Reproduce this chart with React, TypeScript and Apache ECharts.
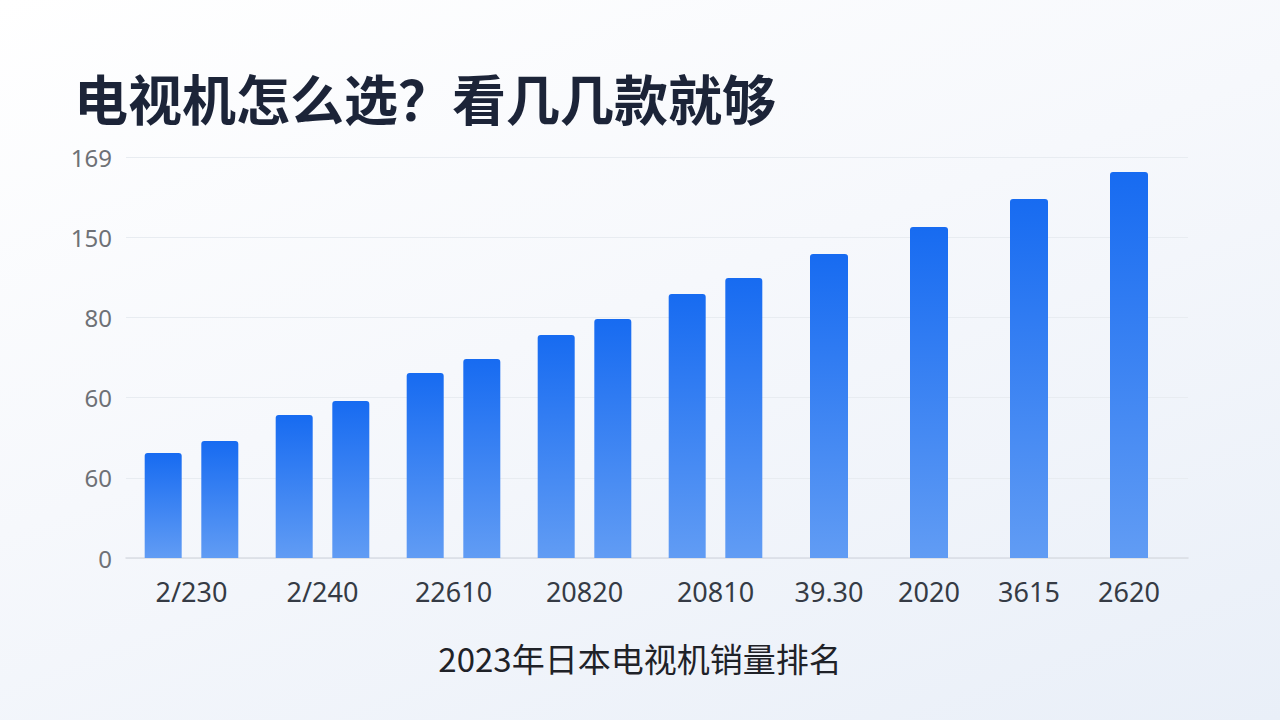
import React, { useEffect, useRef } from 'react';
import * as echarts from 'echarts';

// tick labels as printed on the picture (bottom to top)
const yTickLabels = ['0', '60', '60', '80', '150', '169'];
const groupLabels = ['2/230', '2/240', '22610', '20820', '20810'];
const singleLabels = ['39.30', '2020', '3615', '2620'];

// paired bars for the first five groups
const firstBars = [52.4, 71.3, 92.3, 111.2, 131.7];
const secondBars = [58.4, 78.3, 99.3, 119.2, 139.7];
// single bars for the last four groups
const singleBars = [151.6, 165.1, 179.1, 192.5];

const TITLE = '电视机怎么选？看几几款就够';
const CAPTION = '2023年日本电视机销量排名';

const Y_MAX = 200;
const Y_STEP = 40;

const barColor = new echarts.graphic.LinearGradient(0, 0, 0, 1, [
  { offset: 0, color: '#176bf1' },
  { offset: 1, color: '#619cf4' },
]);

const App: React.FC = () => {
  const chartRef = useRef<HTMLDivElement>(null);

  useEffect(() => {
    if (!chartRef.current) return;
    const chart = echarts.init(chartRef.current, undefined, { renderer: 'svg' });

    const hiddenY = (gridIndex: number) => ({
      type: 'value',
      gridIndex,
      min: 0,
      max: Y_MAX,
      interval: Y_STEP,
      show: false,
    });

    const labelStyle = {
      fontFamily: 'Noto Sans',
      fontSize: 27,
      color: '#353b45',
      margin: 20,
    };

    const option = {
      animation: false,
      backgroundColor: 'transparent',
      grid: [
        // background grid: y labels, split lines, base line
        { left: 126, right: 92, top: 157, bottom: 162 },
        // paired groups
        { left: 126, width: 655, top: 157, bottom: 162 },
        // single bars
        { left: 779, width: 400, top: 157, bottom: 162 },
      ],
      xAxis: [
        {
          type: 'category',
          gridIndex: 0,
          data: [''],
          axisLine: { show: true, lineStyle: { color: '#d9dde4', width: 1.5 } },
          axisTick: { show: false },
          axisLabel: { show: false },
        },
        {
          type: 'category',
          gridIndex: 1,
          data: groupLabels,
          axisLine: { show: false },
          axisTick: { show: false },
          axisLabel: labelStyle,
        },
        {
          type: 'category',
          gridIndex: 2,
          data: singleLabels,
          axisLine: { show: false },
          axisTick: { show: false },
          axisLabel: labelStyle,
        },
      ],
      yAxis: [
        {
          type: 'value',
          gridIndex: 0,
          min: 0,
          max: Y_MAX,
          interval: Y_STEP,
          axisLine: { show: false },
          axisTick: { show: false },
          axisLabel: {
            fontFamily: 'Noto Sans',
            fontSize: 24,
            color: '#6e7176',
            margin: 14,
            formatter: (v: number) => yTickLabels[Math.round(v / Y_STEP)] ?? '',
          },
          splitLine: { lineStyle: { color: '#e8ecf1', width: 1 } },
        },
        hiddenY(1),
        hiddenY(2),
      ],
      series: [
        {
          type: 'bar',
          xAxisIndex: 1,
          yAxisIndex: 1,
          data: firstBars,
          barWidth: 37,
          barGap: '53%',
          itemStyle: { color: barColor, borderRadius: [3, 3, 0, 0] },
        },
        {
          type: 'bar',
          xAxisIndex: 1,
          yAxisIndex: 1,
          data: secondBars,
          barWidth: 37,
          barGap: '53%',
          itemStyle: { color: barColor, borderRadius: [3, 3, 0, 0] },
        },
        {
          type: 'bar',
          xAxisIndex: 2,
          yAxisIndex: 2,
          data: singleBars,
          barWidth: 38,
          itemStyle: { color: barColor, borderRadius: [3, 3, 0, 0] },
        },
      ],
      graphic: [
        {
          type: 'text',
          left: 74,
          top: 70,
          style: {
            text: TITLE,
            fontFamily: 'Noto Sans CJK SC',
            fontWeight: 'bold',
            fontSize: 54,
            fill: '#1c2438',
          },
        },
        {
          type: 'text',
          left: 'center',
          top: 641,
          style: {
            text: CAPTION,
            fontFamily: 'Noto Sans CJK SC',
            fontSize: 33,
            fill: '#1f2228',
          },
        },
      ],
    };

    chart.setOption(option);
    return () => chart.dispose();
  }, []);

  return (
    <div
      style={{
        position: 'fixed',
        left: 0,
        top: 0,
        width: 1280,
        height: 720,
        background:
          'linear-gradient(160deg, #ffffff 0%, #f6f8fc 45%, #e9eff8 100%)',
      }}
    >
      <div ref={chartRef} style={{ width: 1280, height: 720 }} />
    </div>
  );
};

export default App;
